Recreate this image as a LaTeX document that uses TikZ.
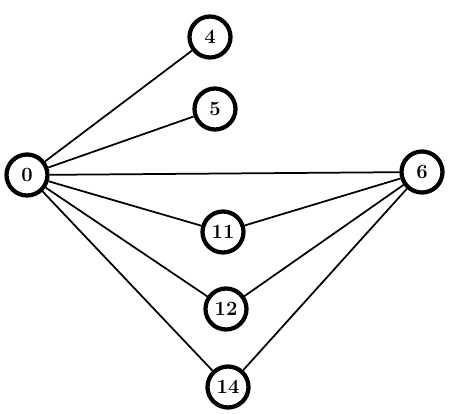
\documentclass[tikz,border=0pt]{standalone}
\usetikzlibrary{positioning}

\begin{document}
\begin{tikzpicture}[
    x=0.02cm, y=-0.02cm,
    vertex/.style={draw, circle, line width=0.085cm, minimum size=0.82cm, inner sep=0pt, font=\fontsize{11.5}{13}\selectfont\bfseries},
    edge/.style={line width=0.035cm}
]
    \useasboundingbox (0,0) rectangle (457,413);

    % Left and right hubs
    \node[vertex] (n0) at (27,175) {0};
    \node[vertex] (n6) at (422,172) {6};

    % Middle column
    \node[vertex] (n4) at (210,37) {4};
    \node[vertex] (n5) at (215,109) {5};
    \node[vertex] (n11) at (223,232) {11};
    \node[vertex] (n12) at (226,309) {12};
    \node[vertex] (n14) at (228,387) {14};

    % Edges from 0
    \foreach \t in {n4, n5, n6, n11, n12, n14}
        \draw[edge] (n0) -- (\t);

    % Edges from 6
    \foreach \t in {n11, n12, n14}
        \draw[edge] (n6) -- (\t);

\end{tikzpicture}
\end{document}
